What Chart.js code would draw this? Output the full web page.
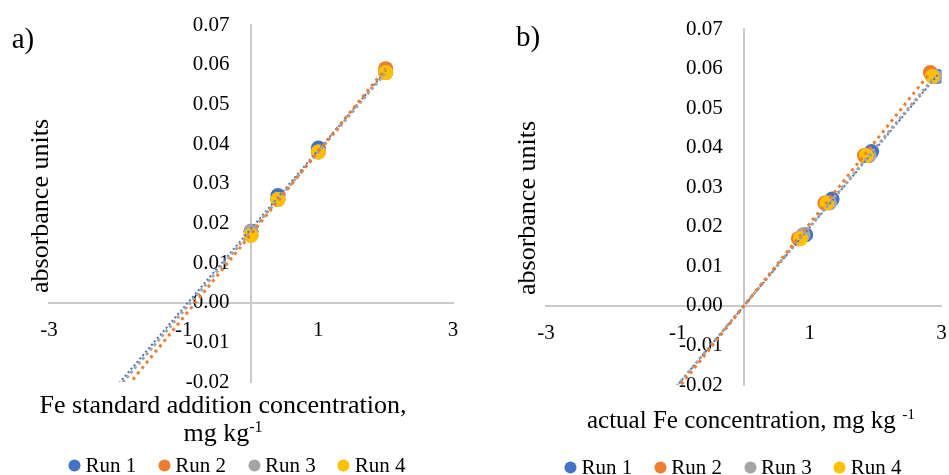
<!DOCTYPE html>
<html>
<head>
<meta charset="utf-8">
<script src="https://cdn.jsdelivr.net/npm/chart.js@4.4.1/dist/chart.umd.min.js"></script>
<style>
  body { margin: 0; background: #fff; font-family: "Liberation Serif", serif; color: #000; }
  #page { position: relative; width: 949px; height: 475px; overflow: hidden; }
  canvas { position: absolute; top: 0; }
  .txt { position: absolute; white-space: nowrap; transform: translate(-50%, -50%); }
  .panel { font-size: 29px; }
  .ytitle { font-size: 26px; transform: translate(-50%, -50%) rotate(-90deg); }
  .xtitle { text-align: center; line-height: 28px; }
  .legend { font-size: 21px; display: flex; align-items: center; }
  .legend .item { display: flex; align-items: center; margin: 0 11px; }
  .legend i { display: inline-block; width: 12px; height: 12px; border-radius: 50%; margin-right: 5px; }
  sup { font-size: 0.62em; vertical-align: 0.55em; line-height: 0; }
</style>
</head>
<body>
<div id="page">
  <canvas id="chartA" width="470" height="475" style="left:0"></canvas>
  <canvas id="chartB" width="479" height="475" style="left:470px"></canvas>

  <div class="txt panel" style="left:23px; top:38px">a)</div>
  <div class="txt panel" style="left:528px; top:36px">b)</div>

  <div class="txt ytitle" style="left:40px; top:206px">absorbance units</div>
  <div class="txt ytitle" style="left:527px; top:208px">absorbance units</div>

  <div class="txt xtitle" style="left:223px; top:419px; font-size:26px">Fe standard addition concentration,<br>mg kg<sup>-1</sup></div>
  <div class="txt xtitle" style="left:751px; top:420px; font-size:25px">actual Fe concentration, mg kg <sup>-1</sup></div>

  <div class="txt legend" id="legendA" style="left:237px; top:465px"></div>
  <div class="txt legend" id="legendB" style="left:733px; top:467px"></div>
</div>

<script>
// series names and colours
const runNames = ['Run 1', 'Run 2', 'Run 3', 'Run 4'];
const runColors = ['#4472C4', '#ED7D31', '#A5A5A5', '#FFC000'];

// a) absorbance vs added Fe (mg/kg)
const addedFe = [0, 0.4, 1, 2];
const absRun1 = [0.018, 0.027, 0.039, 0.058];
const absRun2 = [0.017, 0.026, 0.038, 0.059];
const absRun3 = [0.018, 0.026, 0.038, 0.058];
const absRun4 = [0.017, 0.026, 0.038, 0.058];

// b) absorbance vs actual Fe (mg/kg), one x list per run
const actualRun1 = [0.94, 1.34, 1.94, 2.94];
const actualRun2 = [0.83, 1.23, 1.83, 2.83];
const actualRun3 = [0.90, 1.30, 1.90, 2.90];
const actualRun4 = [0.86, 1.26, 1.86, 2.86];

// axis ticks
const xTickValues = [-3, -1, 1, 3];
const yTickValues = [-0.02, -0.01, 0, 0.01, 0.02, 0.03, 0.04, 0.05, 0.06, 0.07];

const absRuns = [absRun1, absRun2, absRun3, absRun4];

Chart.defaults.font.family = '"Liberation Serif", serif';
Chart.defaults.color = '#000';

// least squares trendline, drawn back to x = fromX (Excel backward forecast)
function trendPoints(xs, ys, fromX) {
    const n = xs.length;
    const mx = xs.reduce((a, b) => a + b, 0) / n;
    const my = ys.reduce((a, b) => a + b, 0) / n;
    let sxy = 0, sxx = 0;
    xs.forEach((x, i) => {
        sxy += (x - mx) * (ys[i] - my);
        sxx += (x - mx) * (x - mx);
    });
    const k = sxy / sxx;
    const b = my - k * mx;
    const toX = Math.max(...xs);
    return [{ x: fromX, y: k * fromX + b }, { x: toX, y: k * toX + b }];
}

// dotted trendline look per run (run 4 has none)
const trendStyle = [
    { width: 2, dash: [2, 2.5], order: 2 },
    { width: 3, dash: [3, 4], order: 0 },
    { width: 3, dash: [3, 3], order: 1 },
    null
];

function buildDatasets(xLists) {
    const sets = [];
    runNames.forEach((name, i) => {
        sets.push({
            label: name,
            data: xLists[i].map((x, j) => ({ x: x, y: absRuns[i][j] })),
            backgroundColor: runColors[i],
            borderWidth: 0,
            pointRadius: 7.5,
            order: 6 - i
        });
    });
    runNames.forEach((name, i) => {
        const st = trendStyle[i];
        if (!st) return;
        sets.push({
            label: name + ' trend',
            data: trendPoints(xLists[i], absRuns[i], -3),
            showLine: true,
            pointRadius: 0,
            borderColor: runColors[i],
            borderWidth: st.width,
            borderDash: st.dash,
            fill: false,
            order: st.order
        });
    });
    return sets;
}

const tickFont = { size: 21 };

function makeChart(canvasId, xLists, padding) {
    return new Chart(document.getElementById(canvasId), {
        type: 'scatter',
        data: { datasets: buildDatasets(xLists) },
        options: {
            responsive: false,
            animation: false,
            layout: { padding: padding },
            plugins: {
                legend: { display: false },
                tooltip: { enabled: false }
            },
            scales: {
                x: {
                    type: 'linear',
                    min: -3,
                    max: 3,
                    position: { y: 0 },
                    afterBuildTicks: (s) => { s.ticks = xTickValues.map(v => ({ value: v })); },
                    afterFit: (s) => { s.height = 0; },
                    grid: { display: false, drawTicks: true, tickLength: 14 },
                    border: { display: true, color: '#C9C9C9', width: 2 },
                    ticks: { padding: 1, font: tickFont, color: '#000' }
                },
                // the vertical axis line through x = 0
                y: {
                    type: 'linear',
                    min: -0.02,
                    max: 0.07,
                    position: { x: 0 },
                    afterFit: (s) => { s.width = 0; },
                    grid: { display: false },
                    border: { display: true, color: '#C9C9C9', width: 2 },
                    ticks: { display: false }
                },
                // its labels, set a little to the left of the line
                yLabels: {
                    type: 'linear',
                    axis: 'y',
                    min: -0.02,
                    max: 0.07,
                    position: { x: -0.32 },
                    afterBuildTicks: (s) => { s.ticks = yTickValues.map(v => ({ value: v })); },
                    afterFit: (s) => { s.width = 0; },
                    grid: { display: false, drawTicks: false },
                    border: { display: false },
                    ticks: {
                        padding: 0,
                        font: tickFont,
                        color: '#000',
                        callback: (v) => (Math.abs(v) < 1e-9 ? 0 : v).toFixed(2)
                    }
                }
            }
        }
    });
}

function fillLegend(id) {
    const box = document.getElementById(id);
    runNames.forEach((name, i) => {
        const item = document.createElement('span');
        item.className = 'item';
        item.innerHTML = `<i style="background:${runColors[i]}"></i>${name}`;
        box.appendChild(item);
    });
}

makeChart('chartA', [addedFe, addedFe, addedFe, addedFe], { left: 49, right: 17, top: 25, bottom: 93 });
makeChart('chartB', [actualRun1, actualRun2, actualRun3, actualRun4], { left: 76, right: 4, top: 29, bottom: 90 });
fillLegend('legendA');
fillLegend('legendB');
</script>
</body>
</html>
